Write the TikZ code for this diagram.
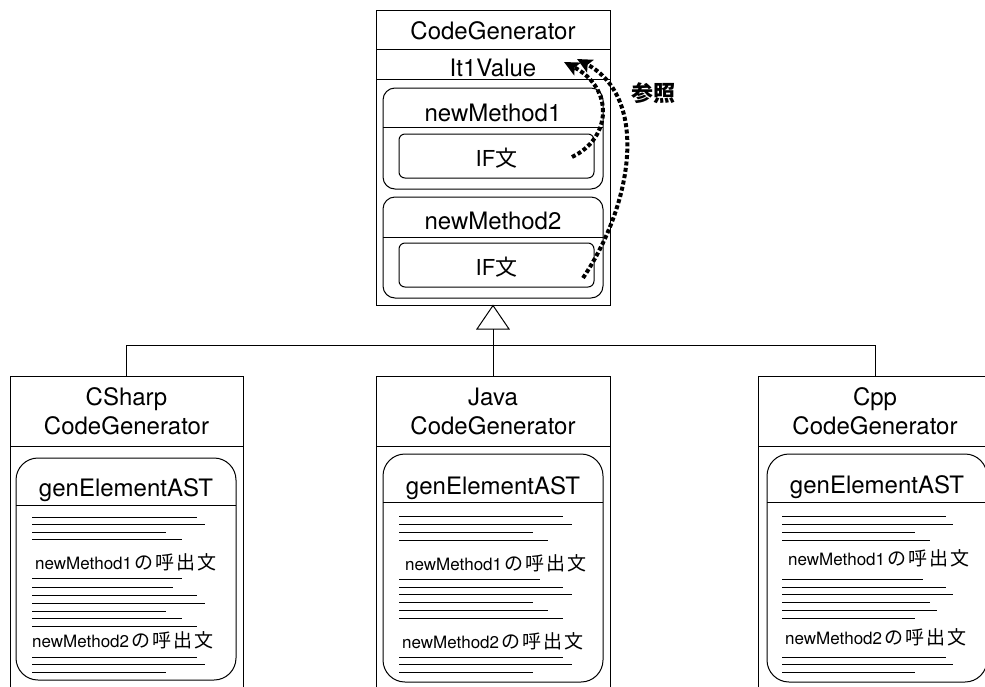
\documentclass[tikz,border=0pt]{standalone}
\usepackage{fontspec}
\setmainfont{TeX Gyre Heros}
\newfontfamily\jpfont{Noto Sans CJK JP}
\usetikzlibrary{arrows.meta}
\newcommand{\jp}[1]{{\jpfont #1}}
% call statement label: method name followed by the Japanese suffix
\newcommand{\callof}[1]{#1\,{\jpfont\fontsize{19}{20}\selectfont の\hspace{2pt}呼\hspace{2pt}出\hspace{2pt}文}}

\begin{document}
\begin{tikzpicture}[x=1pt,y=-1pt,
  frame/.style={draw, line width=1pt, rectangle, inner sep=0pt},
  rbox/.style={frame, rounded corners=#1},
  title/.style={font=\fontsize{24}{28}\selectfont, inner sep=0pt, anchor=base},
  iftext/.style={font=\fontsize{22}{26}\selectfont, inner sep=0pt, anchor=base},
  call/.style={font=\fontsize{17}{20}\selectfont, inner sep=0pt, anchor=base west},
  rule/.style={line width=1pt},
  codeline/.style={line width=0.9pt},
  refarrow/.style={line width=4pt, dash pattern=on 4pt off 2.4pt,
    -{Stealth[length=15pt,width=14pt,inset=3pt]}},
]
\useasboundingbox (0,0) rectangle (985,686);
\clip (0,0) rectangle (985,686);

% ---------- base class ----------
\node[frame, minimum width=234pt, minimum height=295pt] (base) at (493,157.5) {};
\draw[rule] (376,49) -- (610,49);
\draw[rule] (376,79) -- (610,79);
\node[title] (basename) at (493,39) {CodeGenerator};
\node[title] (field) at (493,76) {It1Value};

\node[rbox=12pt, minimum width=220pt, minimum height=101pt] (m1) at (493,138.5) {};
\draw[rule] (383,127) -- (603,127);
\node[title] (m1name) at (493,121) {newMethod1};
\node[rbox=6pt, minimum width=195pt, minimum height=44pt] (if1) at (496.5,156) {};
\node[iftext] (if1text) at (496.5,166) {IF\jp{文}};

\node[rbox=12pt, minimum width=220pt, minimum height=101pt] (m2) at (493,247.5) {};
\draw[rule] (383,237) -- (603,237);
\node[title] (m2name) at (493,229) {newMethod2};
\node[rbox=6pt, minimum width=195pt, minimum height=44pt] (if2) at (496.5,265) {};
\node[iftext] (if2text) at (496.5,275) {IF\jp{文}};

% references from the IF statements to the field
\coordinate (r1s) at (572,157);
\coordinate (r1e) at (564,62);
\coordinate (r2s) at (583,278);
\coordinate (r2e) at (577,59);
\draw[refarrow] (r1s) .. controls (612,138) and (614,88) .. (r1e);
\draw[refarrow] (r2s) .. controls (632,205) and (650,98) .. (r2e);
\node[font=\jpfont\bfseries\fontsize{22}{26}\selectfont, inner sep=0pt] (reflabel) at (653,93) {参照};

% ---------- subclasses ----------
\node[frame, minimum width=233pt, minimum height=330pt, anchor=north] (cs) at (126.5,376) {};
\node[frame, minimum width=234pt, minimum height=330pt, anchor=north] (java) at (493,376) {};
\node[frame, minimum width=234pt, minimum height=330pt, anchor=north] (cpp) at (875,376) {};

% generalization
\coordinate (triL) at (477,329);
\coordinate (triR) at (509,329);
\coordinate (triB) at (493,329);
\draw[rule, line join=miter] (base.south) -- (triL) -- (triR) -- cycle;
\draw[rule] (triB) -- (java.north);
\draw[rule] (cs.north) -- ++(0,-31) -| (cpp.north);

% headers
\draw[rule] (10,446) -- (243,446);
\draw[rule] (376,446) -- (610,446);
\draw[rule] (758,446) -- (992,446);
\node[title] (csn1) at (126.5,405) {CSharp};
\node[title] (csn2) at (126.5,434) {CodeGenerator};
\node[title] (jvn1) at (493,405) {Java};
\node[title] (jvn2) at (493,434) {CodeGenerator};
\node[title] (cpn1) at (875,405) {Cpp};
\node[title] (cpn2) at (875,434) {CodeGenerator};

% genElementAST operations
\node[rbox=22pt, minimum width=220pt, minimum height=222pt] (csg) at (126,569) {};
\draw[rule] (16,505) -- (236,505);
\node[title] (csgn) at (126,496) {genElementAST};

\node[rbox=22pt, minimum width=220pt, minimum height=228pt] (jvg) at (493,568) {};
\draw[rule] (383,502) -- (603,502);
\node[title] (jvgn) at (493,494) {genElementAST};

\node[rbox=22pt, minimum width=220pt, minimum height=228pt] (cpg) at (877,568) {};
\draw[rule] (767,502) -- (987,502);
\node[title] (cpgn) at (877,493) {genElementAST};

% code lines
\foreach \y/\e in {517/197,524/205,532/166,539/182,
                   578/182,587/173,595/197,603/205,611/166,618/182,626/197,
                   657/197,664/205,672/166}
  \draw[codeline] (32,\y) -- (\e,\y);
\foreach \y/\e in {516/563,524/572,532/533,540/548,
                   579/540,587/563,594/572,602/533,610/548,618/563,
                   657/563,664/572,672/533}
  \draw[codeline] (399,\y) -- (\e,\y);
\foreach \y/\e in {516/946,524/953,532/915,540/930,
                   579/923,587/946,594/953,602/930,610/937,618/915,
                   657/946,664/953,672/915}
  \draw[codeline] (782,\y) -- (\e,\y);

% call statements
\node[call] (cs1) at (35,569) {\callof{newMethod1}};
\node[call] (cs2) at (32,647) {\callof{newMethod2}};
\node[call] (jv1) at (405,570) {\callof{newMethod1}};
\node[call] (jv2) at (402,648) {\callof{newMethod2}};
\node[call] (cp1) at (788,565) {\callof{newMethod1}};
\node[call] (cp2) at (785,644) {\callof{newMethod2}};
\end{tikzpicture}
\end{document}
